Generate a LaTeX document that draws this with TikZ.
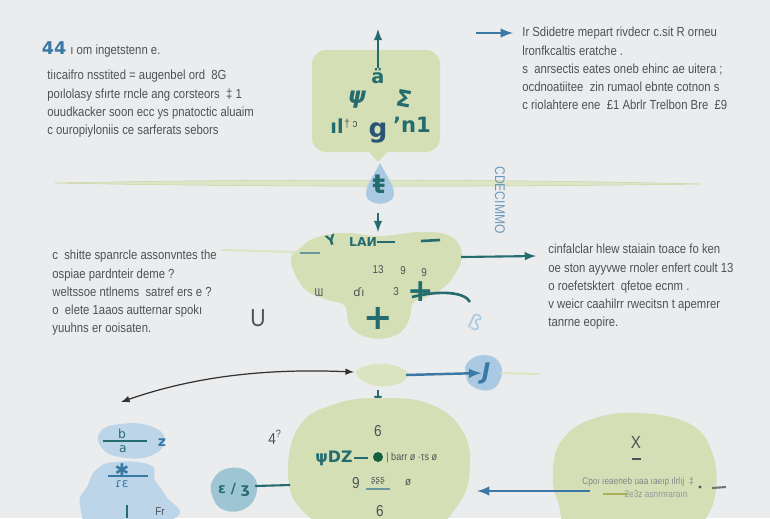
\documentclass[tikz,border=0pt]{standalone}
\usepackage{fontspec}
\newfontfamily\bodyfont{Liberation Sans}[FakeStretch=0.86]
\newfontfamily\glyphfont{DejaVu Sans}
\definecolor{bggray}{HTML}{EBECEE}
\definecolor{leaf}{HTML}{D4DFB6}
\definecolor{leafline}{HTML}{DDE5C6}
\definecolor{sky}{HTML}{A9CAE2}
\definecolor{skypale}{HTML}{BCD5E9}
\definecolor{skyteal}{HTML}{9EC5D3}
\definecolor{inkteal}{HTML}{256C6E}
\definecolor{inkblue}{HTML}{3B78A5}
\definecolor{txtgray}{HTML}{505154}
\begin{document}
\begin{tikzpicture}[x=0.02cm, y=-0.02cm,
    notes/.style={anchor=north west, align=left, inner sep=0, text=txtgray,
      font=\bodyfont\fontsize{7.5}{10.3}\selectfont},
    glyph/.style={inner sep=0, text=inkteal, font=\glyphfont\bfseries\fontsize{11}{11}\selectfont},
    tiny/.style={inner sep=0, text=txtgray, font=\bodyfont\fontsize{6.5}{7}\selectfont},
    tealarrow/.style={-latex, inkteal, line width=1.2pt},
    bluearrow/.style={-latex, inkblue, line width=1.4pt}
  ]
  \fill[bggray] (0,0) rectangle (770,518);
  \clip (0,0) rectangle (770,518);

  % text blocks
  \node[glyph, text=inkblue, font=\glyphfont\bfseries\fontsize{10}{10}\selectfont] (mark) at (54,48) {44};
  \node[notes, anchor=west] (headtxt) at (70,51) {ı om ingetstenn e.};
  \node[notes] (lefttop) at (47,70) {tiıcaifro nsstited = augenbel ord\ \ 8G\\
    poılolasy sfırte rncle ang corsteors\ \ ‡ 1\\
    ouudkacker soon ecc ys pnatoctic aluaim\\
    c ouropiyloniis ce sarferats sebors};
  \node[notes] (righttop) at (522,27) {Ir Sdidetre mepart rivdecr c.sit R orneu\\
    lronfkcaltis eratche .\\
    s\ \ anrsectis eates oneb ehinc ae uitera ;\\
    ocdnoatiitee\ \ zin rumaol ebnte cotnon s\\
    c riolahtere ene\ \ £1 Abrlr Trelbon Bre\ \ £9};
  \node[notes] (leftmid) at (52,250) {c\ \ shitte spanrcle assonvntes the\\
    ospiae pardnteir deme ?\\
    weltssoe ntlnems\ \ satref ers e ?\\
    o\ \ elete 1aaos autternar spokı\\
    yuuhns er ooisaten.};
  \node[notes] (rightmid) at (548,244) {cinfalclar hlew staiain toace fo ken\\
    oe ston ayyvwe rnoler enfert coult 13\\
    o roefetsktert\ \ qfetoe ecnm .\\
    v weicr caahilrr rwecitsn t apemrer\\
    tanrne eopire.};
  \coordinate (arrowtail) at (476,33);
  \coordinate (arrowhead) at (513,33);
  \draw[bluearrow] (arrowtail) -- (arrowhead);

  % top bubble
  \fill[leaf, rounded corners=8] (312,50) rectangle (440,152);
  \fill[leaf] (368,151) -- (378,162) -- (388,151) -- cycle;
  \node[glyph] (acc) at (378,76) {ä};
  \coordinate (uptip) at (378,29);
  \draw[tealarrow] (acc.north) -- (uptip);
  \node[glyph, font=\glyphfont\bfseries\itshape\fontsize{13}{13}\selectfont] (psi) at (357,100) {ψ};
  \node[glyph, font=\glyphfont\bfseries\fontsize{13}{13}\selectfont, rotate=-10] (sig) at (404,99) {Σ};
  \node[glyph] (il) at (337,126) {ıl};
  \node[tiny] at (351,124) {† ɔ};
  \node[glyph, text=inkblue!70!black, font=\glyphfont\bfseries\fontsize{15}{15}\selectfont] (gee) at (378,133) {g};
  \node[glyph, font=\glyphfont\bfseries\fontsize{12}{12}\selectfont] (nun) at (412,125) {ʼn1};

  % pale band and drop
  \filldraw[leafline, draw=leaf!90!olive, line width=0.3pt] (55,183) .. controls (250,179) and (500,179) .. (700,184)
    .. controls (500,187) and (250,187) .. (55,183) -- cycle;
  \fill[sky] (380,163) .. controls (386,175) and (394,185) .. (394,194)
    .. controls (394,207) and (366,207) .. (366,194) .. controls (366,185) and (374,175) .. (380,163) -- cycle;
  \node[glyph, font=\glyphfont\bfseries\fontsize{15}{15}\selectfont] (drop) at (379,184) {ŧ};
  \node[rotate=-90, inner sep=0, text=inkblue!75, font=\bodyfont\fontsize{8}{8}\selectfont] (vtext) at (500,200) {CDECIMMO};

  % middle blob
  \fill[leaf] plot[smooth cycle, tension=0.7] coordinates {(298,250) (315,238) (345,233) (380,236) (420,232)
    (450,236) (462,254) (455,274) (443,288) (425,298) (413,303) (409,320) (396,335) (370,338)
    (350,326) (345,306) (328,300) (307,291) (295,274) (291,258)};
  \coordinate (droparrow) at (378,213);
  \coordinate (midN) at (378,232);
  \draw[tealarrow] (droparrow) -- (midN);
  \coordinate (midW) at (296,252);
  \coordinate (theend) at (221,250);
  \draw[leafline, line width=1.2pt] (theend) -- (midW);
  \coordinate (midE) at (461,257);
  \coordinate (rightin) at (536,256);
  \draw[tealarrow] (midE) -- (rightin);
  \node[glyph, font=\glyphfont\bfseries\fontsize{8}{8}\selectfont, rotate=15] (why) at (331,240) {Y};
  \node[glyph, font=\glyphfont\bfseries\fontsize{7}{7}\selectfont] (lan) at (363,242) {LAИ};
  \draw[inkteal, line width=1.2pt] (lan.east) -- ++(18,0);
  \draw[inkteal, line width=1.5pt] (421,241) -- (440,240);
  \draw[inkteal!70, line width=1pt] (300,253) -- (320,253);
  \node[tiny] at (378,270) {13};
  \node[tiny] at (403,271) {9};
  \node[tiny] at (424,273) {9};
  \node[tiny] at (319,293) {Ɯ};
  \node[tiny, font=\glyphfont\fontsize{6.5}{7}\selectfont] at (359,292) {ɗı};
  \node[tiny] at (396,292) {3};
  \node[glyph, font=\glyphfont\bfseries\fontsize{18}{18}\selectfont] (plusA) at (421,292) {+};
  \draw[inkteal, line width=1.5pt] (412,297) .. controls (440,290) and (465,292) .. (470,302);
  \node[glyph, font=\glyphfont\bfseries\fontsize{20}{20}\selectfont] (plusB) at (378,318) {+};
  \node[inner sep=0, text=sky, rotate=-25, font=\glyphfont\fontsize{12}{12}\selectfont] (beta) at (476,322) {ß};
  \node[inner sep=0, text=txtgray, font=\bodyfont\fontsize{14}{14}\selectfont] (you) at (258,318) {U};

  % lower row
  \fill[leaf!85] plot[smooth cycle, tension=0.8] coordinates {(356,374) (366,366) (385,364) (403,369) (407,377) (394,385) (372,385)};
  \coordinate (farleft) at (121,402);
  \coordinate (ellW) at (354,372);
  \draw[latex-latex, black!80, line width=0.7pt] (farleft) .. controls (190,378) and (260,368) .. (ellW);
  \fill[sky] plot[smooth cycle, tension=0.8] coordinates {(468,362) (484,355) (499,362) (501,378) (490,390) (472,386) (466,374)};
  \node[glyph, text=inkblue, font=\glyphfont\bfseries\itshape\fontsize{13}{13}\selectfont] (jblob) at (486,373) {J};
  \coordinate (ellE) at (406,375);
  \draw[bluearrow] (ellE) -- (jblob.west);
  \coordinate (jend) at (501,373);
  \coordinate (jline) at (540,374);
  \draw[leafline, line width=1.2pt] (jend) -- (jline);
  \coordinate (ellS) at (378,390);
  \coordinate (bigN) at (378,407);
  \draw[tealarrow] (ellS) -- (bigN);

  % big blob
  \fill[leaf] plot[smooth cycle, tension=0.7] coordinates {(300,425) (335,404) (380,398) (430,404) (462,430)
    (470,468) (458,505) (425,528) (340,528) (300,508) (288,470)};
  \node[tiny, font=\bodyfont\fontsize{9}{9}\selectfont] (six) at (378,431) {6};
  \node[glyph, font=\glyphfont\bfseries\fontsize{9}{9}\selectfont] (phi) at (334,458) {ψDZ};
  \draw[inkteal, line width=1.2pt] (354,458) -- (368,458);
  \fill[inkteal!80!green!70!black] (378,457) circle [radius=5];
  \node[tiny, anchor=west, font=\bodyfont\fontsize{6}{6}\selectfont] (barr) at (386,458) {| barr ø ·τs ø};
  \node[tiny, font=\bodyfont\fontsize{9}{9}\selectfont] (nine) at (356,483) {9};
  \node[tiny, font=\glyphfont\fontsize{5}{5}\selectfont] (ect) at (378,481) {ʂʂʂ};
  \draw[inkteal!70, line width=0.8pt] (366,489) -- (390,489);
  \node[tiny] at (408,482) {ø};
  \node[tiny, font=\bodyfont\fontsize{9}{9}\selectfont] (sixb) at (380,511) {6};
  \node[tiny, font=\bodyfont\fontsize{9}{9}\selectfont] (four) at (275,437) {4\textsuperscript{?}};

  % small blue blob
  \fill[skyteal] plot[smooth cycle, tension=0.8] coordinates {(214,478) (230,468) (250,473) (257,490) (246,508) (224,510) (212,495)};
  \node[glyph, text=inkteal, font=\glyphfont\bfseries\fontsize{8}{8}\selectfont] (smb) at (234,490) {ɛ / ʒ};
  \coordinate (bigW) at (290,485);
  \draw[inkteal, line width=1.2pt] (smb.east) ++(5,-4) -- (bigW);

  % left blue cluster
  \fill[skypale] plot[smooth cycle, tension=0.8] coordinates {(100,432) (120,424) (150,426) (165,440) (150,456) (120,457) (102,448)};
  \fill[skypale] plot[smooth cycle, tension=0.8] coordinates {(96,470) (115,462) (150,465) (155,480) (165,495) (175,518) (100,530) (80,505) (88,485)};
  \node[glyph, text=inkteal, font=\glyphfont\fontsize{7}{7}\selectfont] (numb) at (122,434) {b};
  \draw[inkteal, line width=1pt] (103,441) -- (147,441);
  \node[glyph, text=inkteal, font=\glyphfont\fontsize{7}{7}\selectfont] (denb) at (123,449) {a};
  \node[glyph, text=inkblue, font=\glyphfont\bfseries\fontsize{8}{8}\selectfont] (zed) at (162,443) {z};
  \node[glyph, text=inkblue, font=\glyphfont\bfseries\fontsize{10}{10}\selectfont] (star) at (122,470) {✱};
  \draw[inkblue, line width=1pt] (108,476) -- (148,476);
  \node[glyph, text=inkblue, font=\glyphfont\fontsize{7}{7}\selectfont] (ree) at (122,484) {ɾɛ};
  \draw[inkteal, line width=1pt] (127,505) -- (127,518);
  \node[tiny] at (160,512) {Fr};

  % right blob
  \fill[leaf] plot[smooth cycle, tension=0.7] coordinates {(562,440) (592,419) (640,413) (690,424) (712,452)
    (716,490) (706,518) (690,532) (580,532) (558,502) (553,470)};
  \node[tiny, font=\bodyfont\fontsize{10}{10}\selectfont] (ex) at (636,442) {X};
  \draw[txtgray, line width=1.2pt] (632,459) -- (641,459);
  \node[tiny, font=\bodyfont\fontsize{5.5}{5.5}\selectfont, text=txtgray!70] (cpo) at (638,482) {Cpoı ıeaeneb uaa ıaeıp ılrlıj\ \ ‡};
  \draw[leaf!50!olive, line width=1.5pt] (603,494) -- (628,494);
  \node[tiny, font=\bodyfont\fontsize{5.5}{5.5}\selectfont, text=txtgray!60] (sez) at (656,494) {2e3z asnrnraraın};
  \fill[txtgray] (700,487) circle [radius=1.6];
  \draw[txtgray!80, line width=1.2pt] (712,488) -- (726,487);
  \coordinate (rbW) at (590,491);
  \coordinate (bigE) at (477,491);
  \draw[bluearrow] (rbW) -- (bigE);
\end{tikzpicture}
\end{document}
